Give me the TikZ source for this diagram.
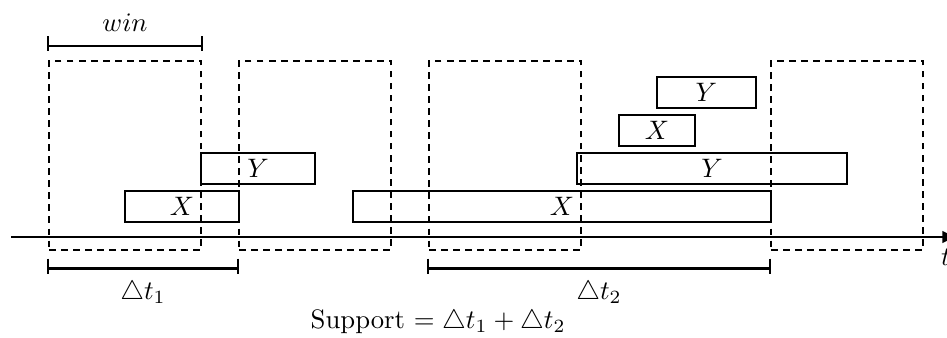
\documentclass[tikz,border=0pt]{standalone}
\usepackage{tikz}
\usepackage{amssymb}
\usetikzlibrary{arrows, positioning, calc}

\tikzset{
    winbox/.style={draw, thick, dash pattern=on 2.5pt off 2pt, inner sep=0pt,
                   minimum width=2cm, minimum height=2.49cm},
    itembar/.style={draw, thick, rectangle, inner sep=0pt, minimum height=0.4cm},
    bracket/.style={thick},
}

\begin{document}
\begin{tikzpicture}
    \useasboundingbox (-0.645,-1.329) rectangle (11.815,3.118);

    % sliding windows
    \node[winbox] (w1) at (1,1.075) {};
    \node[winbox] (w2) at (3.5,1.075) {};
    \node[winbox] (w3) at (6,1.075) {};
    \node[winbox] (w4) at (10.5,1.075) {};

    % time axis
    \coordinate (axl) at (-0.5,0);
    \coordinate (axr) at (11.97,0);
    \draw[line width=1.1pt, -latex] (axl) -- (axr);
    \node[below=1pt of axr, xshift=-0.17cm] (t) {$t$};

    % events
    \node[itembar, minimum width=1.5cm] (x1) at (1.75,0.4) {$X$};
    \node[itembar, minimum width=1.5cm] (y1) at (2.75,0.9) {$Y$};
    \node[itembar, minimum width=5.5cm] (x2) at (6.75,0.4) {$X$};
    \node[itembar, minimum width=3.55cm] (y2) at (8.725,0.9) {$Y$};
    \node[itembar, minimum width=1cm] (x3) at (8,1.4) {$X$};
    \node[itembar, minimum width=1.3cm] (y3) at (8.65,1.9) {$Y$};

    % brackets
    \coordinate[above=0.18cm of w1.north west] (win-l);
    \coordinate[above=0.18cm of w1.north east] (win-r);
    \coordinate[below=0.23cm of w1.south west] (d1-l);
    \coordinate[below=0.23cm of w2.south west] (d1-r);
    \coordinate[below=0.23cm of w3.south west] (d2-l);
    \coordinate[below=0.23cm of w4.south west] (d2-r);
    \draw[bracket] (win-l) -- (win-r);
    \draw[bracket] (d1-l) -- (d1-r);
    \draw[bracket] (d2-l) -- (d2-r);
    \foreach \c in {win-l, win-r, d1-l, d1-r, d2-l, d2-r}
        \draw[bracket] ([yshift=0.13cm]\c) -- ([yshift=-0.07cm]\c);

    \coordinate (win-m) at ($(win-l)!0.5!(win-r)$);
    \coordinate (d1-m) at ($(d1-l)!0.5!(d1-r)$);
    \coordinate (d2-m) at ($(d2-l)!0.5!(d2-r)$);
    \node[above=1.9pt of win-m] (winlabel) {$win$};
    \node[below=1pt of d1-m] (d1label) {$\triangle t_1$};
    \node[below=1pt of d2-m] (d2label) {$\triangle t_2$};

    \node (support) at (5.12,-1.12) {Support $= \triangle t_1 + \triangle t_2$};
\end{tikzpicture}
\end{document}
